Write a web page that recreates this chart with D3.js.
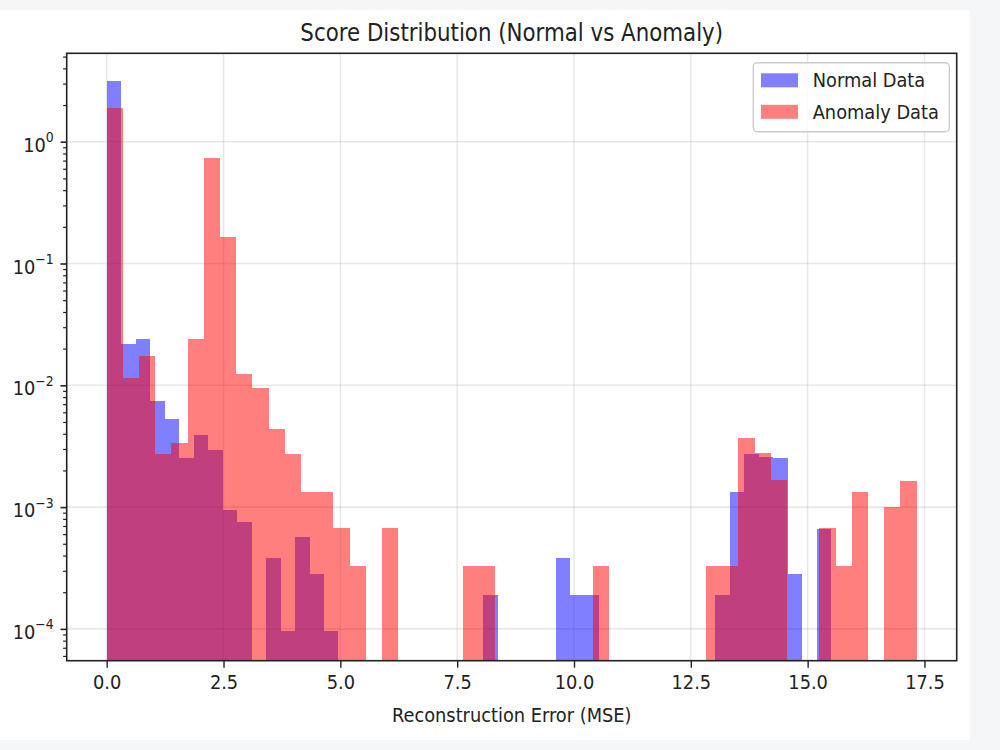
<!DOCTYPE html>
<html>
<head>
<meta charset="utf-8">
<script src="https://cdn.jsdelivr.net/npm/d3@7"></script>
<style>
  body { margin: 0; background: #f5f6f8; }
  svg { display: block; }
  text { font-family: "DejaVu Sans", sans-serif; fill: #222; }
</style>
</head>
<body>
<script>
// histogram densities, 50 bins per series
const normalRange = [0, 15.5]; // min / max of normal scores
const anomalyRange = [0, 17.33]; // min / max of anomaly scores
const normalDensity = [
  3.17, 0.0218, 0.0239, 0.00748, 0.00528, 0.00255, 0.00389, 0.00294, 0.000946, 0.000758,
  0, 0.00038, 0.0000955, 0.000565, 0.000281, 0.0000955, 0, 0, 0, 0,
  0, 0, 0, 0, 0, 0, 0.00019, 0, 0, 0,
  0, 0.00038, 0.00019, 0.00019, 0, 0, 0, 0, 0, 0,
  0, 0, 0.000188, 0.00132, 0.00271, 0.00259, 0.00255, 0.000282, 0, 0.000656
];
const anomalyDensity = [
  1.88, 0.0115, 0.0175, 0.00273, 0.00334, 0.0239, 0.731, 0.164, 0.0123, 0.00944,
  0.00437, 0.00273, 0.00132, 0.00132, 0.000678, 0.000331, 0, 0.000678, 0, 0,
  0, 0, 0.000331, 0.000331, 0, 0, 0, 0, 0, 0,
  0.000331, 0, 0, 0, 0, 0, 0, 0.000331, 0.000331, 0.00372,
  0.00277, 0.00167, 0, 0, 0.000678, 0.000331, 0.00132, 0, 0.001, 0.00164
];
const xTicks = [0, 2.5, 5, 7.5, 10, 12.5, 15, 17.5];
const yMajor = [1e-4, 1e-3, 1e-2, 1e-1, 1];
const yExponents = ["\u22124", "\u22123", "\u22122", "\u22121", "0"];
const seriesNames = ["Normal Data", "Anomaly Data"];

const sx = 0.89; // the picture is squeezed a little horizontally

const svg = d3.select("body").append("svg")
  .attr("width", 1000)
  .attr("height", 750);

svg.append("rect") // white figure area
  .attr("x", 0).attr("y", 10)
  .attr("width", 970).attr("height", 730)
  .attr("fill", "#fff");

const plotLeft = 66.7, plotRight = 956.7, plotTop = 53.3, plotBottom = 660.7;

const x = d3.scaleLinear().domain([-0.856, 18.19]).range([plotLeft, plotRight]);
const y = d3.scaleLog().domain([5.48e-5, 5.32]).range([plotBottom, plotTop]);

function squeezedText(px, py, str, size, anchor) {
  return svg.append("g")
    .attr("transform", `translate(${px},${py}) scale(${sx},1)`)
    .append("text")
    .attr("font-size", size)
    .attr("text-anchor", anchor || "middle")
    .text(str);
}

// grid lines
svg.append("g").selectAll("line")
  .data(xTicks).enter().append("line")
  .attr("x1", d => x(d)).attr("x2", d => x(d))
  .attr("y1", plotTop).attr("y2", plotBottom)
  .attr("stroke", "#b0b0b0").attr("stroke-opacity", 0.3).attr("stroke-width", 1.4);
svg.append("g").selectAll("line")
  .data(yMajor).enter().append("line")
  .attr("x1", plotLeft).attr("x2", plotRight)
  .attr("y1", d => y(d)).attr("y2", d => y(d))
  .attr("stroke", "#b0b0b0").attr("stroke-opacity", 0.3).attr("stroke-width", 1.6);

// bars
function binsOf(range, values) {
  const w = (range[1] - range[0]) / values.length;
  return values.map((v, i) => ({ x0: range[0] + i * w, x1: range[0] + (i + 1) * w, v: v }));
}

function drawHist(bins, color) {
  svg.append("g")
    .attr("fill", color)
    .attr("fill-opacity", 0.5)
    .selectAll("rect")
    .data(bins.filter(d => d.v > 0))
    .enter().append("rect")
    .attr("shape-rendering", "crispEdges")
    .attr("x", d => x(d.x0))
    .attr("width", d => x(d.x1) - x(d.x0))
    .attr("y", d => y(d.v))
    .attr("height", d => plotBottom - y(d.v));
}

drawHist(binsOf(normalRange, normalDensity), "blue");
drawHist(binsOf(anomalyRange, anomalyDensity), "red");

// x axis
const xAxis = svg.append("g")
  .attr("transform", `translate(0,${plotBottom})`)
  .call(d3.axisBottom(x).tickValues(xTicks).tickFormat(d3.format(".1f")).tickSize(7).tickPadding(7));
xAxis.select(".domain").remove();
xAxis.selectAll("line").attr("stroke", "#222").attr("stroke-width", 1.4);
xAxis.selectAll("text")
  .attr("font-size", 20)
  .attr("font-family", "DejaVu Sans")
  .attr("fill", "#222")
  .attr("transform", `scale(${sx},1)`);

// y axis, minor then major ticks
const yMinor = [];
[1e-5, 1e-4, 1e-3, 1e-2, 1e-1, 1].forEach(p => {
  for (let k = 2; k <= 9; k++) {
    const v = p * k;
    if (v >= 5.48e-5 && v <= 5.32) yMinor.push(v);
  }
});
const yMinorAxis = svg.append("g")
  .attr("transform", `translate(${plotLeft},0)`)
  .call(d3.axisLeft(y).tickValues(yMinor).tickFormat("").tickSize(3.6));
yMinorAxis.select(".domain").remove();
yMinorAxis.selectAll("line").attr("stroke", "#222").attr("stroke-width", 1.2);

const yAxis = svg.append("g")
  .attr("transform", `translate(${plotLeft},0)`)
  .call(d3.axisLeft(y).tickValues(yMajor).tickFormat("").tickSize(6.2));
yAxis.select(".domain").remove();
yAxis.selectAll("line").attr("stroke", "#222").attr("stroke-width", 1.6);

yMajor.forEach((v, i) => {
  const t = svg.append("g")
    .attr("transform", `translate(${plotLeft - 13},${y(v) + 10})`)
    .append("text")
    .attr("text-anchor", "end")
    .attr("transform", `scale(${sx},1)`);
  t.append("tspan").attr("font-size", 20).text("10");
  t.append("tspan").attr("font-size", 14).attr("dy", -9.5).text(yExponents[i]);
});

// spines
svg.append("rect")
  .attr("x", plotLeft).attr("y", plotTop)
  .attr("width", plotRight - plotLeft).attr("height", plotBottom - plotTop)
  .attr("fill", "none")
  .attr("stroke", "#222")
  .attr("stroke-width", 1.6);

// labels
squeezedText((plotLeft + plotRight) / 2, 41, "Score Distribution (Normal vs Anomaly)", 24);
squeezedText((plotLeft + plotRight) / 2, 722, "Reconstruction Error (MSE)", 20);

// legend
const legend = svg.append("g");
legend.append("rect")
  .attr("x", 753.3).attr("y", 62.7)
  .attr("width", 196).attr("height", 69)
  .attr("rx", 4)
  .attr("fill", "#fff").attr("fill-opacity", 0.8)
  .attr("stroke", "#cccccc").attr("stroke-width", 1.4);
const legendColors = ["blue", "red"];
seriesNames.forEach((name, i) => {
  const cy = 80.3 + i * 31.5;
  legend.append("rect")
    .attr("x", 761).attr("y", cy - 7)
    .attr("width", 37).attr("height", 14)
    .attr("fill", legendColors[i]).attr("fill-opacity", 0.5);
  squeezedText(812.7, cy + 7, name, 20, "start");
});
</script>
</body>
</html>
